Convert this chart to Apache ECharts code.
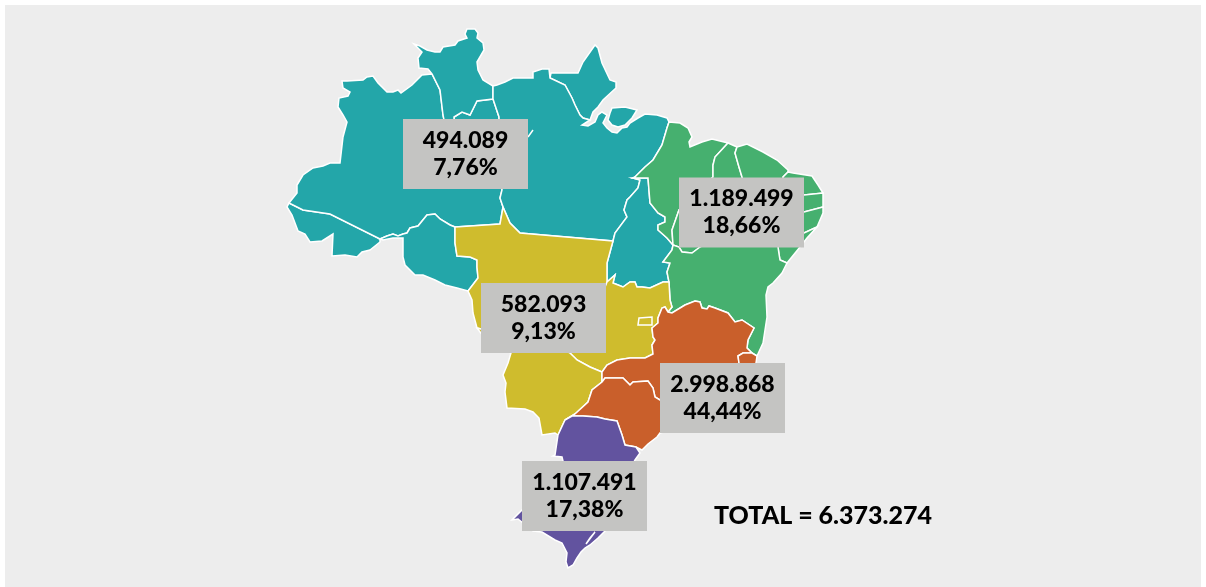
<!DOCTYPE html>
<html>
<head>
<meta charset="utf-8">
<style>
html, body { margin: 0; padding: 0; background: #fff; }
#panel { position: absolute; left: 5px; top: 5px; width: 1196px; height: 582px; background: #ededed; }
#chart { position: absolute; left: 0; top: 0; width: 1206px; height: 587px; }
</style>
<script src="https://cdn.jsdelivr.net/npm/echarts@6/dist/echarts.min.js"></script>
</head>
<body>
<div id="panel"></div>
<div id="chart"></div>
<script>
// regions of the picture
const regionNames = ['Norte', 'Nordeste', 'Centro-Oeste', 'Sudeste', 'Sul'];
const regionTotals = ['494.089', '1.189.499', '582.093', '2.998.868', '1.107.491'];
const regionShares = ['7,76%', '18,66%', '9,13%', '44,44%', '17,38%'];
const regionColors = ['#23a6a9', '#46b06f', '#cfbc2d', '#c95f2b', '#62539f'];
const totalLabel = 'TOTAL = 6.373.274';
// centre of the grey box of each region, map coordinates
const boxCenters = [[465.5, 154], [741.5, 212.5], [543.5, 318], [722.5, 398], [584.5, 496]];

// shared borders
const acAm = [[289,203],[303,210],[330,214],[380,239]];
const amRo = [[380,239],[387,236],[393,234],[398,236],[403,234],[407,233],[410,228],[418,226],[427,215],[435,214],[440,219],[450,225],[455,227]];
const amMt = [[455,227],[500,224],[503,207]];
const amPa = [[493,99],[499,117],[500,150],[502,190],[500,198],[503,207]];
const amRr = [[432,74],[440,90],[443,115],[445,125],[454,125],[454,117],[462,112],[470,115],[477,101],[493,99]];
const apPa = [[550,78],[565,85],[572,98],[575,105],[580,115],[583,118],[590,120]];
const paMa = [[669,122],[667,128],[662,145],[653,160],[645,167],[635,177],[633,178]];
const paTo = [[633,178],[640,180],[638,188],[630,197],[627,200],[624,210],[627,217],[615,233],[613,241]];
const paMt = [[503,207],[510,223],[520,233],[613,241]];
const toMa = [[633,178],[648,178],[650,203],[658,213],[665,217],[665,222],[658,225],[658,230],[667,238],[673,245]];
const toBa = [[673,245],[672,250],[663,262],[670,263],[667,272],[669,282]];
const toGo = [[669,282],[663,282],[650,288],[642,287],[637,287],[635,282],[630,282],[623,287],[613,283],[615,275],[607,282]];
const roMt = [[455,227],[455,243],[457,256],[470,257],[477,260],[477,267],[478,278],[468,291]];
const goMg = [[602,372],[607,365],[617,360],[630,358],[645,358],[653,354],[652,345],[655,340],[653,337],[652,328],[658,323],[658,318],[662,308],[665,307],[668,312]];
const goBa = [[669,282],[670,300],[672,307],[668,312]];
const mgBa = [[668,312],[672,313],[685,305],[695,301],[700,302],[702,308],[707,309],[709,306],[715,308],[728,313],[735,322],[742,320],[754,328],[748,340],[747,348],[752,353]];
const mgSp = [[602,382],[605,378],[623,378],[630,385],[633,382],[648,381],[653,388],[655,397],[660,400],[690,410],[735,390]];
const msSp = [[602,372],[602,382],[592,390],[588,402],[575,414],[565,420]];
const spSc = [[565,420],[572,416],[583,416],[597,417],[605,419],[617,421],[622,435],[625,445],[636,447]];
const maPi = [[728,143],[715,157],[713,165],[713,177],[690,200],[679,210],[672,230],[673,245]];
const piBa = [[673,245],[679,247],[682,252],[692,253],[700,247],[720,235],[745,225]];
const rev = a => a.slice().reverse();

const stateRings = {
    AC: [acAm.concat([[380,242],[370,250],[362,252],[357,257],[345,255],[332,256],[333,234],[322,241],[310,242],[305,234],[298,231],[292,215],[287,207]])],
    AM: [[[289,203],[297,193],[297,185],[303,175],[313,168],[323,166],[330,163],[340,163],[343,137],[347,122],[343,115],[338,107],[339,98],[348,96],[350,92],[343,88],[342,81],[347,81],[363,80],[367,77],[373,76],[378,83],[387,92],[393,92],[398,90],[401,93],[412,85],[422,75]].concat(amRr, amPa, rev(amMt), rev(amRo), rev(acAm))],
    RR: [[[432,74],[428,69],[419,68],[418,58],[422,52],[414,44],[420,46],[427,50],[435,52],[440,52],[443,47],[455,45],[458,41],[467,38],[465,34],[467,29],[475,29],[478,33],[477,38],[483,43],[484,50],[477,62],[478,70],[483,80],[493,86]].concat(rev(amRr))],
    AP: [apPa.concat([[593,112],[598,107],[603,100],[616,88],[616,82],[610,80],[602,63],[598,48],[595,45],[583,62],[578,73],[562,73],[551,73]])],
    PA: [[[493,86],[497,85],[505,82],[513,78],[533,78],[533,72],[542,69],[549,69]].concat(apPa, [[582,125],[588,126],[595,122],[598,115],[602,112],[607,115],[603,123],[607,128],[612,132],[617,133],[622,128],[627,127],[630,123],[638,118],[645,114],[657,115],[667,118]], paMa, paTo, rev(paMt), rev(amPa)),
        [[610,113],[612,108],[625,107],[637,110],[632,118],[625,125],[618,127],[612,125],[608,120]]],
    RO: [amRo.concat(roMt, [[457,288],[445,285],[435,280],[423,275],[415,275],[405,265],[403,257],[403,238],[393,238],[383,240]])],
    TO: [paTo.concat([[607,263]], rev(toGo), rev(toBa), rev(toMa))],
    MA: [[[669,122],[680,123],[688,128],[692,137],[689,142],[690,147],[702,142],[712,139]].concat(maPi, rev(toMa), rev(paMa))],
    PI: [[[728,143],[737,147],[735,153],[739,167],[742,177],[750,205],[745,225]].concat(rev(piBa), rev(maPi))],
    CE: [[[737,147],[747,144],[763,152],[777,160],[788,170],[788,172],[783,177],[785,193],[775,198],[770,208],[750,205],[742,177],[739,167],[735,153]]],
    RN: [[[788,172],[793,173],[812,176],[818,185],[823,193],[804,195],[785,193],[783,177]]],
    PB: [[[785,193],[804,195],[823,193],[823,207],[804,212],[770,208],[775,198]]],
    PE: [[[750,205],[770,208],[804,212],[823,207],[823,213],[817,227],[804,233],[770,232],[745,225]]],
    AL: [[[770,232],[804,233],[817,227],[807,238],[800,247],[787,263],[780,260],[779,254],[778,247]]],
    BA: [piBa.concat([[770,232],[778,247],[779,254],[780,260],[787,263],[782,273],[773,283],[768,287],[766,295],[767,317],[763,343],[757,356]], rev(mgBa), rev(goBa), rev(toBa))],
    MT: [[[455,227],[500,224]].concat(paMt, [[607,263],[607,282],[600,300],[565,350],[477,328],[473,313],[472,300]], rev(roMt))],
    GO: [rev(toGo).concat(goBa, rev(goMg), [[590,367],[577,360],[570,353],[565,350],[600,300]])],
    DF: [[[639,318],[652,317],[652,325],[638,325]]],
    MS: [[[477,328],[490,345],[511,353],[508,363],[503,375],[506,383],[505,392],[507,408],[525,409],[533,412],[539,418],[542,435],[555,433],[558,435]].concat(rev(msSp), [[590,367],[577,360],[570,353],[565,350]])],
    MG: [goMg.concat(mgBa, [[743,353],[738,356],[739,363]], rev(mgSp))],
    ES: [[[738,356],[743,353],[752,353],[757,356],[756,363],[745,380],[735,390],[739,363]]],
    SP: [mgSp.concat([[745,380],[720,405],[690,425],[660,433],[657,437],[648,444],[642,450]], rev(spSc), rev(msSp).slice(0, -1))],
    SC: [[[558,435]].concat(spSc, [[640,453],[635,460],[625,480],[620,500],[605,531],[598,538],[590,545],[585,548],[581,552],[577,558],[573,565],[568,568],[566,562],[567,553],[562,543],[555,540],[542,532],[533,531],[518,519],[512,520],[522,510],[555,470],[563,461],[562,457],[553,456],[555,455]])],
    // open white strokes: the small inlet in Pará and the lagoon on the south coast
    rioPA: [[[528,137],[533,130]]],
    lagoa: [[[595,532],[590,538],[586,544]]]
};
const stateRegion = {
    AC: 0, AM: 0, RR: 0, AP: 0, PA: 0, RO: 0, TO: 0, rioPA: 0,
    MA: 1, PI: 1, CE: 1, RN: 1, PB: 1, PE: 1, AL: 1, BA: 1,
    MT: 2, GO: 2, DF: 2, MS: 2,
    MG: 3, ES: 3, SP: 3,
    SC: 4, lagoa: 4
};

const closeRing = r => r.concat([r[0]]);
const brasil = {
    type: 'FeatureCollection',
    features: Object.keys(stateRings).map(name => ({
        type: 'Feature',
        properties: { name: name },
        geometry: { type: 'MultiPolygon', coordinates: stateRings[name].map(r => [closeRing(r)]) }
    }))
};
echarts.registerMap('brasil', brasil);

let option = {
    animation: false,
    backgroundColor: 'transparent',
    title: {
        text: totalLabel,
        left: 714,
        top: 503,
        padding: 0,
        textStyle: { fontFamily: 'Lato', fontWeight: 900, fontSize: 25, color: '#000' }
    },
    geo: {
        map: 'brasil',
        silent: true,
        roam: false,
        projection: { project: p => p, unproject: p => p },
        boundingCoords: [[0, 0], [1206, 587]],
        layoutCenter: ['50%', '50%'],
        layoutSize: 1206,
        label: { show: false },
        itemStyle: { borderColor: '#fff', borderWidth: 1.5 },
        regions: Object.keys(stateRings).map(name => ({
            name: name,
            itemStyle: { areaColor: regionColors[stateRegion[name]] }
        }))
    },
    series: [{
        type: 'scatter',
        coordinateSystem: 'geo',
        silent: true,
        symbolSize: 0,
        itemStyle: { opacity: 1 },
        data: regionNames.map((name, i) => ({
            name: name,
            value: boxCenters[i],
            label: { formatter: regionTotals[i] + '\n' + regionShares[i] }
        })),
        label: {
            show: true,
            position: 'inside',
            width: 125,
            height: 54,
            padding: [10, 0, 6, 0],
            lineHeight: 27,
            align: 'center',
            verticalAlign: 'middle',
            backgroundColor: '#c4c4c2',
            color: '#000',
            fontFamily: 'Lato',
            fontWeight: 900,
            fontSize: 23
        },
        labelLayout: { hideOverlap: false }
    }]
};
let myChart = echarts.init(document.getElementById('chart'));
myChart.setOption(option);
</script>
</body>
</html>
